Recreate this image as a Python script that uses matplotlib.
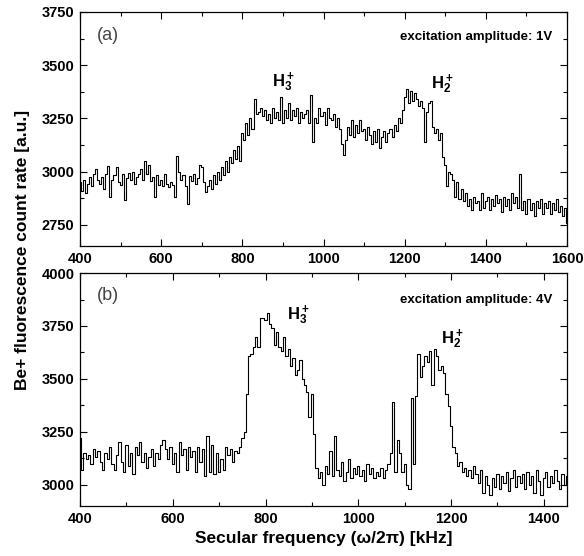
import matplotlib
matplotlib.use("Agg")
import matplotlib.pyplot as plt
import numpy as np
from matplotlib.ticker import MultipleLocator

plt.rcParams['font.family'] = ['Liberation Sans', 'DejaVu Sans']
plt.rcParams['mathtext.fontset'] = 'custom'
plt.rcParams['mathtext.rm'] = 'Liberation Sans'
plt.rcParams['mathtext.bf'] = 'Liberation Sans:bold'

# panel (a): excitation amplitude 1V, 5 kHz steps from 400 to 1600
freq_a = np.arange(400, 1601, 5)
counts_a = [
    2950, 2910, 2960, 2900, 2940, 2975, 2930, 2990, 3010, 2960,
    2940, 2975, 2920, 2990, 3025, 2880, 2960, 2985, 3020, 2950,
    2935, 2990, 2865, 2970, 2995, 2960, 3000, 2940, 2975, 2990,
    3010, 2960, 3050, 2990, 3030, 2955, 2975, 2880, 2985, 2935,
    2960, 2930, 2990, 2940, 2925, 2950, 2935, 2880, 3075, 3000,
    2960, 2985, 2930, 2845, 2980, 2955, 2990, 2940, 2970, 3030,
    3020, 2950, 2905, 2930, 2960, 2920, 2985, 2940, 3000, 2960,
    3020, 2985, 3050, 3000, 3070, 3040, 3100, 3060, 3120, 3050,
    3180, 3150, 3230, 3170, 3250, 3200, 3340, 3270, 3280, 3300,
    3260, 3290, 3240, 3270, 3230, 3300, 3250, 3280, 3240, 3350,
    3230, 3290, 3250, 3320, 3240, 3290, 3260, 3300, 3230, 3280,
    3250, 3270, 3290, 3230, 3360, 3140, 3250, 3230, 3300, 3260,
    3280, 3220, 3300, 3250, 3240, 3270, 3210, 3250, 3200, 3130,
    3076, 3150, 3210, 3170, 3240, 3160, 3220, 3180, 3240, 3190,
    3200, 3150, 3210, 3170, 3130, 3190, 3140, 3200, 3110, 3160,
    3190, 3140, 3180, 3200, 3160, 3220, 3190, 3250, 3230, 3290,
    3350, 3390, 3320, 3380, 3330, 3370, 3340, 3310, 3330, 3300,
    3140, 3280, 3320, 3330, 3210, 3180, 3200, 3150, 3180, 3070,
    3030, 2930, 3000, 2990, 2960, 2880, 2950, 2870, 2920, 2860,
    2900, 2840, 2870, 2820, 2880, 2850, 2860, 2820, 2900, 2830,
    2860, 2880, 2820, 2870, 2840, 2890, 2850, 2870, 2810, 2880,
    2840, 2870, 2820, 2900, 2850, 2880, 2830, 2990, 2820, 2860,
    2800, 2870, 2820, 2850, 2790, 2860, 2830, 2870, 2800, 2850,
    2830, 2860, 2800, 2850, 2820, 2870, 2810, 2840, 2790, 2830,
    2760,
]

# panel (b): excitation amplitude 4V, 5 kHz steps from 400 to 1450
freq_b = np.arange(400, 1451, 5)
counts_b = [
    3220, 3070, 3150, 3120, 3140, 3100, 3170, 3130, 3160, 3110,
    3070, 3150, 3120, 3180, 3100, 3070, 3140, 3200, 3110, 3060,
    3190, 3090, 3150, 3050, 3180, 3140, 3200, 3110, 3150, 3080,
    3130, 3170, 3090, 3150, 3120, 3190, 3210, 3170, 3120, 3180,
    3100, 3150, 3060, 3200, 3140, 3170, 3070, 3180, 3130, 3160,
    3060, 3180, 3110, 3170, 3040, 3230, 3060, 3190, 3050, 3150,
    3060, 3120, 3070, 3180, 3140, 3170, 3110, 3160, 3150, 3180,
    3220, 3250, 3430, 3610, 3620, 3650, 3700, 3650, 3790, 3790,
    3780, 3810, 3760, 3740, 3660, 3720, 3650, 3630, 3700, 3610,
    3640, 3560, 3600, 3520, 3540, 3590, 3500, 3470, 3440, 3320,
    3430, 3240, 3080, 3030, 3060, 3000, 3090, 3050, 3160, 3040,
    3230, 3070, 3040, 3110, 3020, 3060, 3120, 3030, 3080, 3050,
    3090, 3040, 3070, 3020, 3100, 3050, 3080, 3030, 3060, 3040,
    3080, 3030, 3070, 3100, 3150, 3390, 3060, 3210, 3150, 3060,
    3100, 3000, 2980, 3410, 3100, 3420, 3620, 3510, 3560, 3610,
    3580, 3630, 3470, 3640, 3610, 3540, 3560, 3530, 3430, 3370,
    3280, 3180, 3150, 3090, 3110, 3060, 3080, 3040, 3070, 3030,
    3090, 3050, 3010, 3070, 2960, 3040, 3000, 2950, 3030, 2990,
    3050, 2980, 3040, 3010, 3060, 2970, 3030, 3070, 2990, 3040,
    3010, 3050, 2980, 3060, 3000, 3040, 2960, 3070, 3020, 2950,
    3030, 3060, 2990, 3040, 3010, 3070, 3020, 2980, 3050, 3000,
    3040,
]

fig = plt.figure(figsize=(5.84, 5.56), dpi=100)
axA = fig.add_axes([0.137, 0.5576, 0.834, 0.4209])
axB = fig.add_axes([0.137, 0.0899, 0.834, 0.419])


def style(ax, xmax, ylo, yhi):
    ax.set_xlim(400, xmax)
    ax.set_ylim(ylo, yhi)
    ax.xaxis.set_major_locator(MultipleLocator(200))
    ax.xaxis.set_minor_locator(MultipleLocator(100))
    ax.yaxis.set_major_locator(MultipleLocator(250))
    ax.yaxis.set_minor_locator(MultipleLocator(125))
    ax.tick_params(which='both', direction='in', top=True, right=True, width=0.8)
    ax.tick_params(which='major', length=5, labelsize=10.5, pad=4)
    ax.tick_params(which='minor', length=3)
    for lab in ax.get_xticklabels() + ax.get_yticklabels():
        lab.set_fontweight('bold')
    for s in ax.spines.values():
        s.set_linewidth(0.9)


axA.plot(freq_a, counts_a, color='black', lw=0.8, drawstyle='steps-mid')
style(axA, 1600, 2650, 3750)
axA.text(0.035, 0.90, '(a)', transform=axA.transAxes, fontsize=13,
         color='#444444', va='center', ha='left')
axA.text(0.97, 0.895, 'excitation amplitude: 1V', transform=axA.transAxes,
         fontsize=9.5, fontweight='bold', va='center', ha='right')
axA.text(900, 3420, r'$\mathbf{H_3^+}$', fontsize=12, ha='center', va='center')
axA.text(1293, 3410, r'$\mathbf{H_2^+}$', fontsize=12, ha='center', va='center')

axB.plot(freq_b, counts_b, color='black', lw=0.8, drawstyle='steps-mid')
style(axB, 1450, 2900, 4000)
axB.text(0.035, 0.905, '(b)', transform=axB.transAxes, fontsize=13,
         color='#444444', va='center', ha='left')
axB.text(0.97, 0.885, 'excitation amplitude: 4V', transform=axB.transAxes,
         fontsize=9.5, fontweight='bold', va='center', ha='right')
axB.text(870, 3800, r'$\mathbf{H_3^+}$', fontsize=12, ha='center', va='center')
axB.text(1203, 3690, r'$\mathbf{H_2^+}$', fontsize=12, ha='center', va='center')

fig.text(0.038, 0.55, 'Be+ fluorescence count rate [a.u.]', rotation=90,
         fontsize=12.5, fontweight='bold', ha='center', va='center')
fig.text(0.554, 0.032, 'Secular frequency (ω/2π) [kHz]', fontsize=12.5,
         fontweight='bold', ha='center', va='center')

fig.savefig('out.png', dpi=100)
